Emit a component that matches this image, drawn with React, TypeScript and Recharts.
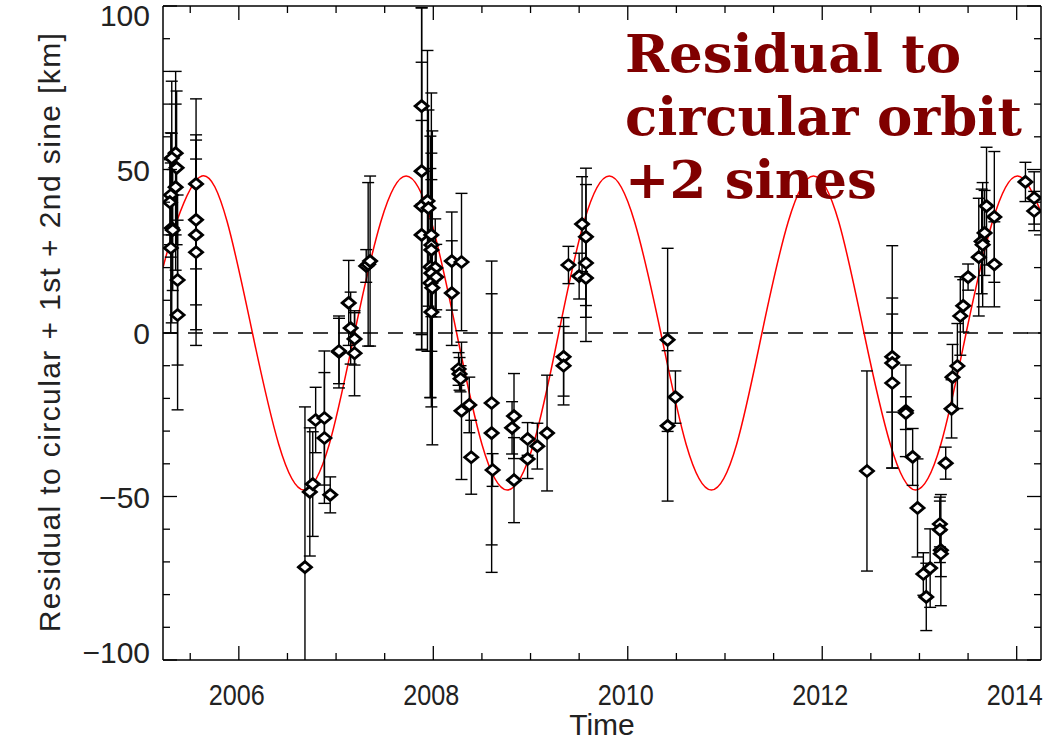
import React from 'react';
import { ComposedChart, Line, Scatter, ErrorBar, XAxis, YAxis, ReferenceLine } from 'recharts';

// fitted curve (residual model)
const curveYears = [
  2005.22, 2005.36, 2005.62, 2005.88, 2006.14, 2006.41, 2006.67, 2006.93, 2007.19, 2007.46,
  2007.72, 2007.98, 2008.24, 2008.5, 2008.76, 2009.03, 2009.29, 2009.55, 2009.81, 2010.07,
  2010.34, 2010.6, 2010.86, 2011.12, 2011.38, 2011.65, 2011.91, 2012.17, 2012.43, 2012.7,
  2012.96, 2013.22, 2013.48, 2013.75, 2014.01, 2014.25,
];
const curveValues = [
  20, 34, 48, 34, 0, -34, -48, -34, 0, 34,
  48, 34, 0, -34, -48, -34, 0, 34, 48, 34,
  0, -34, -48, -34, 0, 34, 48, 34, 0, -34,
  -48, -34, 0, 34, 48, 37,
];

// observations
const obsYears = [
  2005.35, 2005.31, 2005.36, 2005.35, 2005.3, 2005.29, 2005.31, 2005.32, 2005.3, 2005.37, 2005.37,
  2005.56, 2005.56, 2005.56, 2005.56,
  2006.68, 2006.73, 2006.76, 2006.79, 2006.88, 2006.88, 2006.94, 2007.03, 2007.03, 2007.13,
  2007.15, 2007.19, 2007.19, 2007.31, 2007.33, 2007.35,
  2007.88, 2007.88, 2007.88, 2007.88, 2007.94, 2007.95, 2007.98, 2007.98, 2007.98, 2007.97,
  2008.02, 2007.98, 2007.97, 2008.03, 2007.99, 2007.98,
  2008.19, 2008.19, 2008.29, 2008.26, 2008.27, 2008.28, 2008.29, 2008.37, 2008.39,
  2008.6, 2008.6, 2008.61, 2008.83, 2008.81, 2008.83, 2008.97, 2008.97, 2009.07, 2009.17,
  2009.34, 2009.34, 2009.39, 2009.53, 2009.57, 2009.57, 2009.5, 2009.57,
  2010.41, 2010.41, 2010.49,
  2012.46, 2012.72, 2012.72, 2012.72, 2012.86, 2012.86, 2012.93, 2012.98, 2013.04, 2013.07,
  2013.11, 2013.21, 2013.21, 2013.22, 2013.22, 2013.27, 2013.33, 2013.34, 2013.39, 2013.42,
  2013.45, 2013.5, 2013.61, 2013.64, 2013.65, 2013.67, 2013.69, 2013.77, 2013.77,
  2014.09, 2014.18, 2014.18,
];
const obsValues = [
  55, 53.5, 50.5, 44.6, 42.2, 40, 32.1, 31.5, 26, 16.2, 5.5,
  45.6, 34.6, 30, 24.7,
  -71.6, -48.6, -46.2, -26.6, -26, -32.1, -49.5, -5.8, -5.5, 9.2,
  1.5, -1.8, -6.2, 20.5, 21, 22,
  69.4, 49.5, 38.8, 30, 40.4, 38.2, 30, 26.9, 25.4, 20.2,
  19.9, 18.3, 15.3, 17.1, 13.8, 6.4,
  22, 12.2, 21.7, -11, -12.5, -14, -23.8, -22, -38,
  -21.4, -30.6, -41.9, -25.4, -29, -45, -32.4, -38.5, -34.6, -30.6,
  -7.3, -10, 20.8, 33.3, 29.4, 21.4, 17.4, 16.8,
  -2.1, -28.4, -19.6,
  -42.2, -7.3, -9.2, -15.3, -23.8, -24.5, -37.9, -53.5, -73.7, -80.7,
  -71.9, -58.4, -60.2, -66.4, -67.5, -39.8, -23.2, -13.5, -10.1, 5.2,
  8.3, 17.1, 23.2, 28, 27, 30.6, 38.8, 35.5, 21,
  46.2, 41.3, 37.3,
];
const obsErrors = [
  25, 23.5, 23.5, 25.4, 19, 13, 29, 18.5, 26, 26, 29,
  26, 26, 29, 28.5,
  49, 19.6, 16, 10, 20.5, 20, 5.5, 11, 10, 13,
  11, 8, 13, 5, 25, 26,
  30, 50, 44, 35, 46, 30, 25, 20, 48, 40,
  15, 12, 35, 10, 48, 12,
  15, 16, 21, 5, 5, 4, 21, 8.5, 11.3,
  43.4, 42.6, 5, 13, 8, 13, 5, 6, 7, 17.7,
  12, 12, 5.7, 14.5, 21, 24, 7, 12,
  28, 23, 8,
  30.6, 34, 15, 26, 14, 5, 8.7, 15, 6.5, 10.3,
  12, 7, 10, 17, 7, 4.9, 8.9, 10, 13, 12,
  8, 4, 18, 16, 19, 13, 18, 20, 13,
  6, 8, 6,
];

const xTicks = [2005.5, 2006, 2006.5, 2007, 2007.5, 2008, 2008.5, 2009, 2009.5, 2010, 2010.5, 2011, 2011.5, 2012, 2012.5, 2013, 2013.5, 2014];
const yTicks = [-100, -90, -80, -70, -60, -50, -40, -30, -20, -10, 0, 10, 20, 30, 40, 50, 60, 70, 80, 90, 100];

const curveData = curveYears.map((year, i) => ({ year, value: curveValues[i] }));
const obsData = obsYears.map((year, i) => ({ year, value: obsValues[i], err: obsErrors[i] }));

const FONT = '"Liberation Sans", Arial, sans-serif';
const TEXT = '#222';
const MAJOR = 14;
const MINOR = 7;

// plot box inside the svg (margins + axis sizes below)
const W = 1047;
const H = 740;
const PLOT = { x: 163, y: 6, w: 878, h: 654 };

const isMajorX = (v: number) => Math.abs(v % 2) < 1e-6;
const isMajorY = (v: number) => Math.abs(v % 50) < 1e-6;

const BottomTick = (props: any) => {
  const { x, y, payload } = props;
  const major = isMajorX(payload.value);
  return (
    <g>
      <line x1={x} x2={x} y1={y} y2={y - (major ? MAJOR : MINOR)} stroke="#000" strokeWidth={1.3} />
      {major && (
        <text
          x={x - 2}
          y={y + 45}
          textAnchor="middle"
          fontFamily={FONT}
          fontSize={30}
          fill={TEXT}
          textLength={56}
          lengthAdjust="spacingAndGlyphs"
        >
          {payload.value}
        </text>
      )}
    </g>
  );
};

const TopTick = (props: any) => {
  const { x, y, payload } = props;
  const major = isMajorX(payload.value);
  return <line x1={x} x2={x} y1={y} y2={y + (major ? MAJOR : MINOR)} stroke="#000" strokeWidth={1.3} />;
};

const LeftTick = (props: any) => {
  const { x, y, payload } = props;
  const v = payload.value;
  const major = isMajorY(v);
  const dy = v === 100 ? 9 : v === -100 ? -8 : 0;
  return (
    <g>
      <line x1={x} x2={x + (major ? MAJOR : MINOR)} y1={y} y2={y} stroke="#000" strokeWidth={1.3} />
      {major && (
        <text x={x - 13} y={y + dy + 11} textAnchor="end" fontFamily={FONT} fontSize={30} fill={TEXT}>
          {String(v).replace('-', '\u2212')}
        </text>
      )}
    </g>
  );
};

const RightTick = (props: any) => {
  const { x, y, payload } = props;
  const major = isMajorY(payload.value);
  return <line x1={x} x2={x - (major ? MAJOR : MINOR)} y1={y} y2={y} stroke="#000" strokeWidth={1.3} />;
};

const Diamond = (props: any) => {
  const { cx, cy } = props;
  if (cx == null || cy == null) return null;
  const w = 6.5;
  const h = 5.5;
  return (
    <polygon
      points={`${cx - w},${cy} ${cx},${cy - h} ${cx + w},${cy} ${cx},${cy + h}`}
      fill="#fff"
      stroke="#000"
      strokeWidth={2.8}
    />
  );
};

export default function App() {
  return (
    <div style={{ position: 'fixed', left: 0, top: 0, width: W, height: H, background: '#fff', overflow: 'hidden' }}>
      {/* clip for error bars that run past the frame */}
      <svg width={0} height={0} style={{ position: 'absolute' }}>
        <defs>
          <clipPath id="plot-frame-clip" clipPathUnits="userSpaceOnUse">
            <rect x={PLOT.x} y={PLOT.y} width={PLOT.w} height={PLOT.h} />
          </clipPath>
        </defs>
      </svg>
      <ComposedChart width={W} height={H} margin={{ top: 5, right: 5, bottom: 0, left: 0 }}>
        <XAxis
          xAxisId="bottom"
          dataKey="year"
          type="number"
          domain={[2005.22, 2014.25]}
          allowDataOverflow
          ticks={xTicks}
          interval={0}
          height={80}
          tickSize={0}
          tickMargin={0}
          tickLine={false}
          axisLine={{ stroke: '#000', strokeWidth: 1.5 }}
          tick={<BottomTick />}
        />
        <XAxis
          xAxisId="top"
          orientation="top"
          dataKey="year"
          type="number"
          domain={[2005.22, 2014.25]}
          allowDataOverflow
          ticks={xTicks}
          interval={0}
          height={1}
          tickSize={0}
          tickMargin={0}
          tickLine={false}
          axisLine={{ stroke: '#000', strokeWidth: 1.5 }}
          tick={<TopTick />}
        />
        <YAxis
          yAxisId="left"
          dataKey="value"
          type="number"
          domain={[-100, 100]}
          allowDataOverflow
          ticks={yTicks}
          interval={0}
          width={163}
          tickSize={0}
          tickMargin={0}
          tickLine={false}
          axisLine={{ stroke: '#000', strokeWidth: 1.5 }}
          tick={<LeftTick />}
        />
        <YAxis
          yAxisId="right"
          orientation="right"
          dataKey="value"
          type="number"
          domain={[-100, 100]}
          allowDataOverflow
          ticks={yTicks}
          interval={0}
          width={1}
          tickSize={0}
          tickMargin={0}
          tickLine={false}
          axisLine={{ stroke: '#000', strokeWidth: 1.5 }}
          tick={<RightTick />}
        />
        <ReferenceLine
          xAxisId="bottom"
          yAxisId="left"
          y={0}
          stroke="#000"
          strokeWidth={1.4}
          strokeDasharray="15 10"
        />
        <Line
          xAxisId="bottom"
          yAxisId="left"
          data={curveData}
          dataKey="value"
          type="natural"
          stroke="#ff0000"
          strokeWidth={1.5}
          dot={false}
          activeDot={false}
          isAnimationActive={false}
        />
        <Scatter
          xAxisId="bottom"
          yAxisId="left"
          data={obsData}
          dataKey="value"
          shape={<Diamond />}
          isAnimationActive={false}
        >
          <ErrorBar
            dataKey="err"
            direction="y"
            width={6}
            stroke="#000"
            strokeWidth={1.4}
            clipPath="url(#plot-frame-clip)"
          />
        </Scatter>
      </ComposedChart>

      <div
        style={{
          position: 'absolute',
          left: 625,
          top: 22,
          fontFamily: '"DejaVu Serif", serif',
          fontWeight: 'bold',
          fontSize: 53,
          lineHeight: '63px',
          color: '#800000',
          whiteSpace: 'nowrap',
        }}
      >
        Residual to
        <br />
        circular orbit
        <br />
        +2 sines
      </div>

      <div
        style={{
          position: 'absolute',
          left: 50,
          top: 332,
          transform: 'translate(-50%, -50%) rotate(-90deg)',
          fontFamily: FONT,
          fontSize: 30,
          letterSpacing: 1.4,
          color: TEXT,
          whiteSpace: 'nowrap',
        }}
      >
        Residual to circular + 1st + 2nd sine [km]
      </div>

      <div
        style={{
          position: 'absolute',
          left: 602,
          top: 708,
          transform: 'translateX(-50%)',
          fontFamily: FONT,
          fontSize: 30,
          color: TEXT,
          whiteSpace: 'nowrap',
        }}
      >
        Time
      </div>
    </div>
  );
}
